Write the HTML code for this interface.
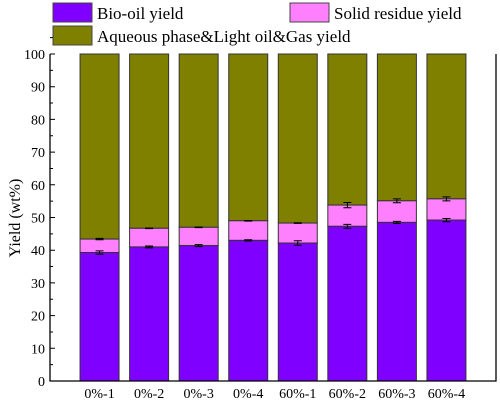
<!DOCTYPE html>
<html><head><meta charset="utf-8"><style>
body{margin:0;background:#fff;}
svg{font-family:"Liberation Serif",serif;}
</style></head><body>
<svg id="c" width="500" height="400">
<g id="legend">
<rect x="53" y="3" width="39" height="19" fill="#8000ff" stroke="#444"/>
<text x="97" y="19" font-size="17">Bio-oil yield</text>
<rect x="290" y="3" width="39" height="19" fill="#ff80ff" stroke="#444"/>
<text x="334" y="19" font-size="17">Solid residue yield</text>
<rect x="53" y="26" width="39" height="19" fill="#808000" stroke="#444"/>
<text x="97" y="42" font-size="17">Aqueous phase&amp;Light oil&amp;Gas yield</text>
</g>
<text transform="translate(20,218) rotate(-90)" text-anchor="middle" font-size="16">Yield (wt%)</text>
<g id="plot"></g>
</svg>
<script>
const categories=["0%-1","0%-2","0%-3","0%-4","60%-1","60%-2","60%-3","60%-4"];
const bioOil=[39.3,41.0,41.4,43.0,42.2,47.3,48.5,49.2];
const bioErr=[0.5,0.3,0.3,0.2,0.7,0.6,0.3,0.5];
const solid=[4.1,5.7,5.6,6.0,6.1,6.5,6.6,6.5];
const solidErr=[0.2,0.1,0.1,0.1,0.1,0.8,0.6,0.6];
const total=[100,100,100,100,100,100,100,100];
const yTicks=[0,10,20,30,40,50,60,70,80,90,100];
const NS="http://www.w3.org/2000/svg";
const X0=50,X1=496,Y0=381,Y1=54;
const step=(X1-X0)/(categories.length+1);
const xs=i=>X0+step*(i+1);
const ys=v=>Y0-(v/100)*(Y0-Y1);
const g=document.getElementById('plot');
function mk(t,a){const e=document.createElementNS(NS,t);for(const k in a)e.setAttribute(k,a[k]);g.appendChild(e);return e;}
const bw=39;
categories.forEach((c,i)=>{
  const cx=xs(i),b=bioOil[i],s=b+solid[i];
  let r=mk('rect',{x:cx-bw/2,y:ys(total[i]),width:bw,height:ys(s)-ys(total[i]),fill:'#808000',stroke:'#333','stroke-width':1});
  
  
  r=mk('rect',{x:cx-bw/2,y:ys(s),width:bw,height:ys(b)-ys(s),fill:'#ff80ff',stroke:'#333','stroke-width':1});
  
  
  r=mk('rect',{x:cx-bw/2,y:ys(b),width:bw,height:Y0-ys(b),fill:'#8000ff',stroke:'#333','stroke-width':1});
  
  
  [[b,bioErr[i]],[s,solidErr[i]]].forEach(([v,e],k)=>{
    const p=mk('path',{d:`M${cx-4},${ys(v+e)}H${cx+4}M${cx},${ys(v+e)}V${ys(v-e)}M${cx-4},${ys(v-e)}H${cx+4}`,stroke:'#000','stroke-width':1,fill:'none'});
    
    
  });
  const t=mk('text',{x:cx,y:Y0+17,'text-anchor':'middle','font-size':14});
  t.textContent=c;
  
  
});
const ax=mk('path',{d:`M${X0},${Y1}V${Y0}H${X1}V${Y1}`,stroke:'#000','stroke-width':1.3,fill:'none'});


yTicks.forEach(v=>{
  const tk=mk('path',{d:`M${X0},${ys(v)}h5M${X0},${ys(v+5)}h3`,stroke:'#000','stroke-width':1});
  
  
  const t=mk('text',{x:X0-5,y:ys(v)+5,'text-anchor':'end','font-size':14});
  t.textContent=v;
  
  
});
</script>
</body></html>
